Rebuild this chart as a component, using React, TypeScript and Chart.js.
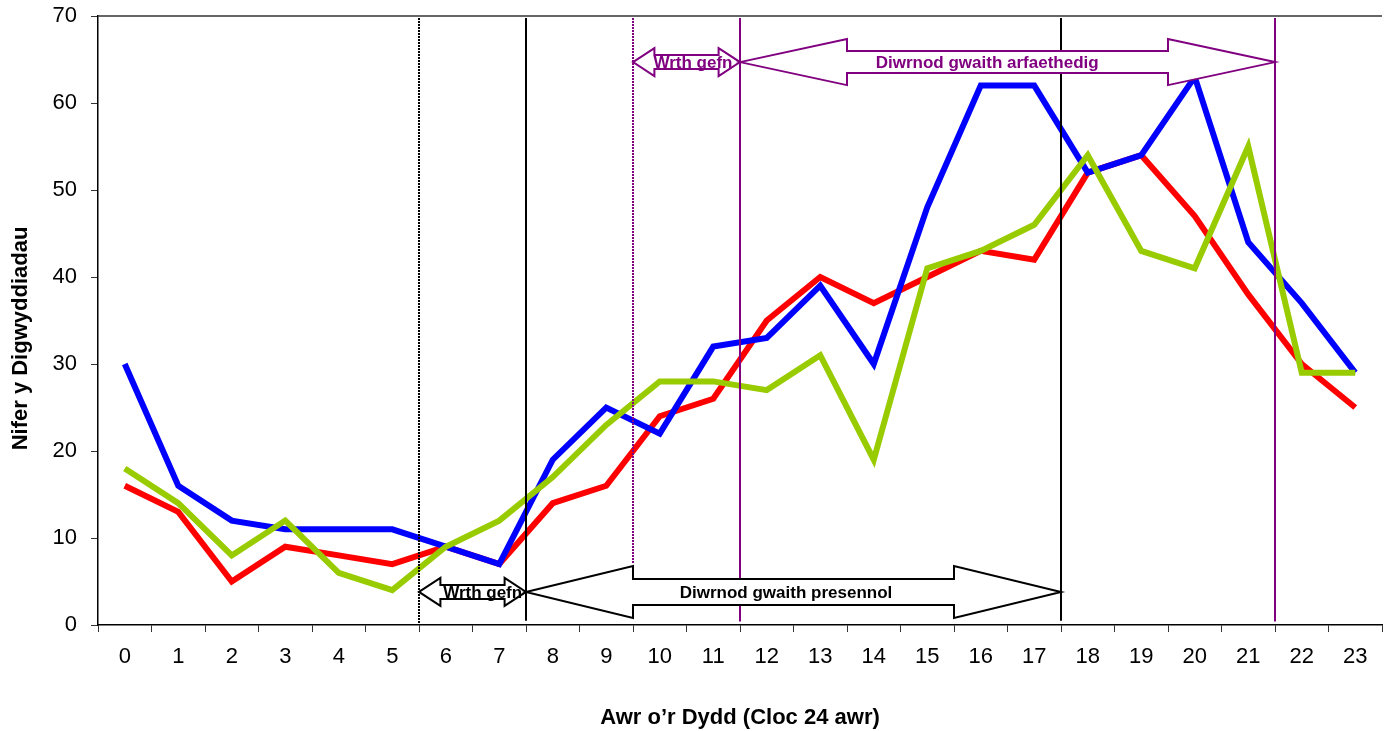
import React, { useEffect, useRef } from "react";
import { Chart, registerables } from "chart.js";

Chart.register(...registerables);

const hours = ["0","1","2","3","4","5","6","7","8","9","10","11","12","13","14","15","16","17","18","19","20","21","22","23"];
const blueSeries = [30,16,12,11,11,11,9,7,19,25,22,32,33,39,30,48,62,62,52,54,63,44,37,29];
const greenSeries = [18,14,8,12,6,4,9,12,17,23,28,28,27,31,19,41,43,46,54,43,41,55,29,29];
const redSeries = [16,13,5,9,8,7,9,7,14,16,24,26,35,40,37,40,43,42,52,54,47,38,30,25];
const yMin = 0;
const yMax = 70;
const yStep = 10;

const yTitle = "Nifer y Digwyddiadau";
const xTitle = "Awr o\u2019r Dydd (Cloc 24 awr)";

// vertical divider lines (category positions between hours)
const dividerAt = [5.5, 7.5, 9.5, 11.5, 17.5, 21.5];
const dividerColor = ["#000000", "#000000", "#800080", "#800080", "#000000", "#800080"];
const dividerDotted = [true, false, true, false, false, false];
const dividerDownTo = [0, 0.5, 7, 0.4, 0.5, 0.4];

// double block arrows
const arrowFrom = [5.5, 7.5, 9.5, 11.5];
const arrowTo = [7.5, 17.5, 11.5, 21.5];
const arrowLevel = [3.8, 3.8, 64.7, 64.7];
const arrowLabel = ["Wrth gefn", "Diwrnod gwaith presennol", "Wrth gefn", "Diwrnod gwaith arfaethedig"];
const arrowLabelAt = [6.69, 12.36, 10.62, 16.12];
const arrowColor = ["#000000", "#000000", "#800080", "#800080"];
const arrowHeadHalf = [14, 26, 14, 23];
const arrowShaftHalf = [7, 13, 7, 11];

const FONT = '"Liberation Sans", Arial, sans-serif';

const overlayPlugin = {
  id: "overlay",
  afterDatasetsDraw(chart: any) {
    const { ctx, chartArea } = chart;
    const xs = chart.scales.x;
    const ys = chart.scales.y;
    ctx.save();
    // top border
    ctx.strokeStyle = "#333333";
    ctx.lineWidth = 1.5;
    ctx.beginPath();
    ctx.moveTo(chartArea.left, chartArea.top);
    ctx.lineTo(chartArea.right, chartArea.top);
    ctx.stroke();

    // dividers
    dividerAt.forEach((v, i) => {
      const x = Math.round(xs.getPixelForValue(v));
      ctx.strokeStyle = dividerColor[i];
      ctx.lineWidth = 2;
      ctx.setLineDash(dividerDotted[i] ? [2, 1] : []);
      ctx.beginPath();
      ctx.moveTo(x, chartArea.top + 2);
      ctx.lineTo(x, ys.getPixelForValue(dividerDownTo[i]));
      ctx.stroke();
    });
    ctx.setLineDash([]);

    // arrows
    arrowFrom.forEach((f, i) => {
      const x1 = xs.getPixelForValue(f);
      const x2 = xs.getPixelForValue(arrowTo[i]);
      const cy = ys.getPixelForValue(arrowLevel[i]);
      const hl = (x2 - x1) * 0.2;
      const hh = arrowHeadHalf[i];
      const sh = arrowShaftHalf[i];
      ctx.beginPath();
      ctx.moveTo(x1, cy);
      ctx.lineTo(x1 + hl, cy - hh);
      ctx.lineTo(x1 + hl, cy - sh);
      ctx.lineTo(x2 - hl, cy - sh);
      ctx.lineTo(x2 - hl, cy - hh);
      ctx.lineTo(x2, cy);
      ctx.lineTo(x2 - hl, cy + hh);
      ctx.lineTo(x2 - hl, cy + sh);
      ctx.lineTo(x1 + hl, cy + sh);
      ctx.lineTo(x1 + hl, cy + hh);
      ctx.closePath();
      ctx.fillStyle = "#ffffff";
      ctx.fill();
      ctx.strokeStyle = arrowColor[i];
      ctx.lineWidth = 2;
      ctx.lineJoin = "miter";
      ctx.stroke();
      ctx.fillStyle = arrowColor[i];
      ctx.font = "bold 17px " + FONT;
      ctx.textAlign = "center";
      ctx.textBaseline = "middle";
      ctx.fillText(arrowLabel[i], xs.getPixelForValue(arrowLabelAt[i]), cy + 1);
    });

    // axis titles
    ctx.fillStyle = "#000000";
    ctx.font = "bold 22px " + FONT;
    ctx.textAlign = "center";
    ctx.textBaseline = "middle";
    ctx.fillText(xTitle, (chartArea.left + chartArea.right) / 2, 718);
    ctx.save();
    ctx.translate(21, (chartArea.top + chartArea.bottom) / 2 + 18);
    ctx.rotate(-Math.PI / 2);
    ctx.fillText(yTitle, 0, 0);
    ctx.restore();
    ctx.restore();
  },
};

export default function App() {
  const canvasRef = useRef<HTMLCanvasElement | null>(null);

  useEffect(() => {
    document.body.style.margin = "0";
    const canvas = canvasRef.current;
    if (!canvas) return;
    const line = (data: number[], color: string) => ({
      data,
      borderColor: color,
      backgroundColor: color,
      borderWidth: 6,
      pointRadius: 0,
      pointHoverRadius: 0,
      tension: 0,
      borderJoinStyle: "miter" as const,
      borderCapStyle: "butt" as const,
      fill: false,
    });
    const chart = new Chart(canvas, {
      type: "line",
      data: {
        labels: hours,
        datasets: [
          line(greenSeries, "#99CC00"),
          line(blueSeries, "#0000FF"),
          line(redSeries, "#FF0000"),
        ],
      },
      options: {
        animation: false,
        responsive: false,
        devicePixelRatio: 1,
        layout: { padding: { left: 0, top: 16, right: 12, bottom: 0 } },
        plugins: { legend: { display: false }, tooltip: { enabled: false }, title: { display: false } },
        scales: {
          x: {
            type: "category",
            offset: true,
            grid: { display: true, offset: true, drawOnChartArea: false, drawTicks: true, tickLength: 7, color: "#333333", lineWidth: 1 },
            border: { display: true, color: "#000000", width: 1.5 },
            ticks: { color: "#000000", font: { family: FONT, size: 22 }, padding: 12, maxRotation: 0, autoSkip: false },
            afterFit: (scale: any) => { scale.height = 106; },
          },
          y: {
            min: yMin,
            max: yMax,
            grid: { display: true, drawOnChartArea: false, drawTicks: true, tickLength: 7, color: "#333333", lineWidth: 1 },
            border: { display: true, color: "#000000", width: 1.5 },
            ticks: { stepSize: yStep, color: "#000000", font: { family: FONT, size: 22 }, padding: 14 },
            afterFit: (scale: any) => {
              scale.width = 98;
              scale.paddingTop = 0;
              scale.paddingBottom = 0;
            },
          },
        },
      },
      plugins: [overlayPlugin],
    });
    return () => chart.destroy();
  }, []);

  return (
    <div style={{ width: 1394, height: 731, position: "relative", background: "#ffffff" }}>
      <canvas ref={canvasRef} width={1394} height={731} style={{ display: "block" }} />
    </div>
  );
}
